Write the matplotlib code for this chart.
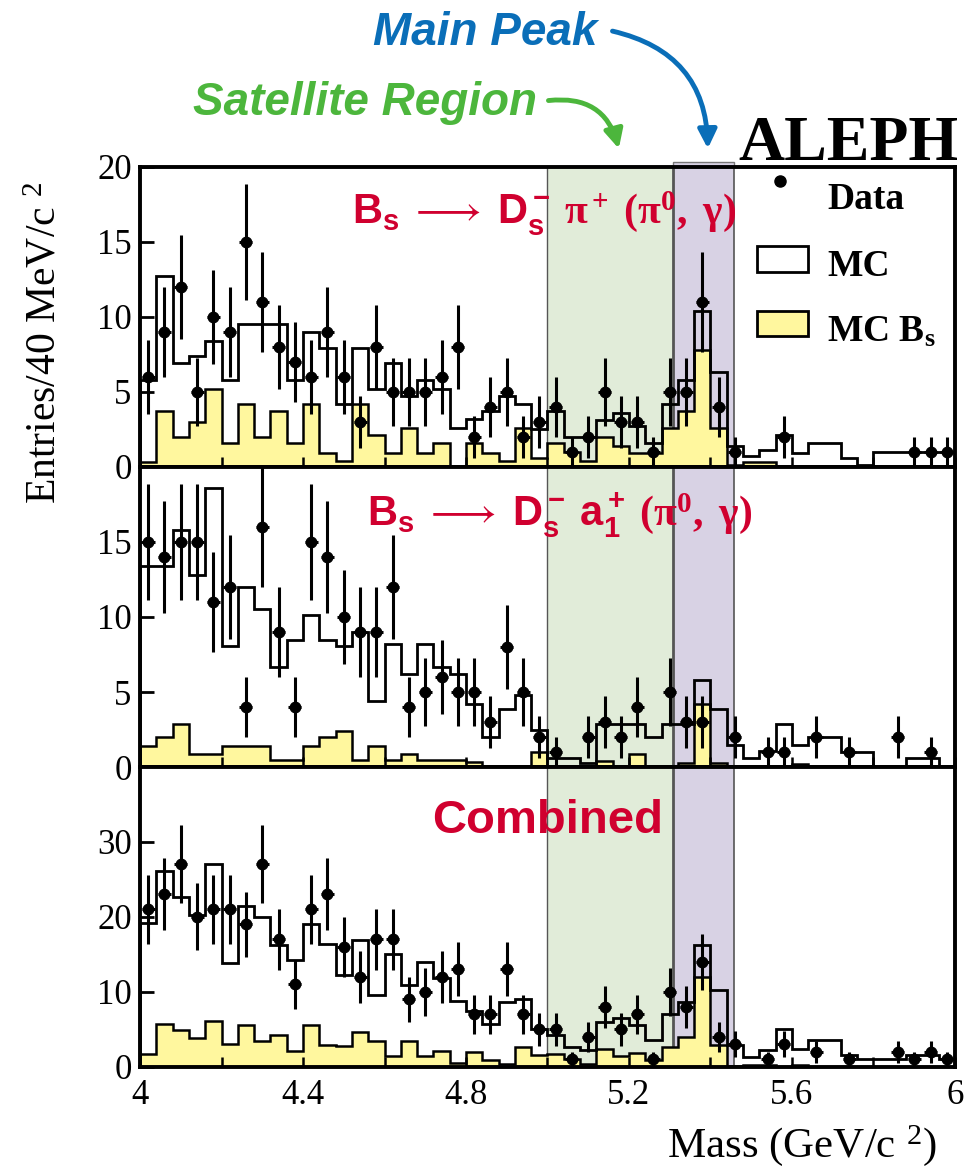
import numpy as np
import matplotlib
matplotlib.use("Agg")
from matplotlib import pyplot as plt
from matplotlib.patches import FancyArrowPatch, Rectangle

# 40 MeV bins between 4 and 6 GeV
edges = np.linspace(4.0, 6.0, 51)
centers = edges[:-1] + 0.02

# data counts per bin, Bs -> Ds pi
data1 = [6, 9, 12, 5, 10, 9, 15, 11, 8, 7, 6, 9, 6, 3, 8, 5, 5, 5, 6, 8,
         2, 4, 5, 2, 3, 4, 1, 2, 5, 3, 3, 1, 5, 5, 11, 4, 1, 0, 0, 2,
         0, 0, 0, 0, 0, 0, 0, 1, 1, 1]
# data counts per bin, Bs -> Ds a1
data2 = [15, 14, 15, 15, 11, 12, 4, 16, 9, 4, 15, 14, 10, 9, 9, 12, 4, 5, 6, 5,
         5, 3, 8, 5, 2, 1, 0, 2, 3, 2, 4, 0, 5, 3, 3, 0, 2, 0, 1, 1,
         0, 2, 0, 1, 0, 0, 2, 0, 1, 0]

# MC total
mc1 = [5.8, 12.7, 6.9, 7.4, 8.4, 5.8, 9.5, 9.5, 9.5, 5.8, 9.0, 7.9, 4.2, 7.9, 5.2, 6.9, 4.7, 5.8, 5.2, 2.6,
       3.2, 3.7, 4.7, 4.2, 2.5, 3.7, 2.0, 2.0, 3.1, 3.6, 2.7, 1.6, 4.2, 5.8, 10.4, 6.3, 1.4, 0.7, 1.1, 2.1,
       0.9, 1.6, 1.6, 0.6, 0.1, 1.0, 1.0, 1.0, 1.0, 1.0]
mc2 = [13.4, 13.4, 15.8, 12.8, 18.6, 8.1, 12.0, 10.5, 6.7, 8.5, 10.1, 8.5, 8.1, 9.0, 4.4, 8.2, 6.2, 8.2, 6.7, 6.2,
       4.2, 2.0, 3.9, 4.8, 2.5, 0.6, 0.6, 0.3, 2.9, 2.9, 2.9, 2.0, 2.9, 2.9, 5.8, 3.9, 1.5, 0.6, 1.1, 2.9,
       1.5, 2.0, 2.0, 1.0, 1.0, 0.0, 0.0, 0.6, 0.6, 0.0]

# MC Bs component
bs1 = [0.3, 3.7, 2.0, 3.0, 5.2, 1.6, 4.2, 2.0, 3.7, 1.6, 4.2, 0.9, 0.4, 4.2, 2.1, 0.9, 2.6, 0.9, 1.6, 0.0,
       1.6, 0.9, 0.4, 2.6, 0.6, 1.6, 1.0, 0.4, 2.0, 1.4, 0.9, 0.9, 2.6, 3.7, 7.8, 2.6, 0.1, 0.3, 0.3, 0.0,
       0.0, 0.0, 0.0, 0.0, 0.0, 0.0, 0.0, 0.0, 0.0, 0.0]
bs2 = [1.4, 2.0, 2.9, 0.9, 0.9, 1.4, 1.4, 1.4, 0.5, 0.5, 1.4, 2.0, 2.4, 0.5, 1.4, 0.5, 0.9, 0.5, 0.5, 0.5,
       0.35, 0.0, 0.0, 0.0, 1.0, 0.1, 0.0, 0.0, 0.4, 0.0, 0.9, 0.0, 0.0, 0.3, 4.2, 0.3, 0.0, 0.0, 0.0, 0.0,
       0.2, 0.0, 0.0, 0.0, 0.0, 0.0, 0.0, 0.0, 0.0, 0.0]

# combined = sum of both channels
data3 = np.array(data1) + np.array(data2)
mc3 = np.array(mc1) + np.array(mc2)
bs3 = np.array(bs1) + np.array(bs2)

# mass windows
sat_lo, sat_hi, peak_hi = 5.0, 5.308, 5.458

red = '#D0002F'
yellow = '#FFF79E'
green_band = '#E1ECD9'
purple_band = '#D8D2E4'

plt.rcParams['font.family'] = ['Liberation Serif', 'DejaVu Serif']
plt.rcParams['mathtext.fontset'] = 'custom'
plt.rcParams['mathtext.rm'] = 'Liberation Serif'
plt.rcParams['mathtext.it'] = 'Liberation Serif:italic'
plt.rcParams['mathtext.bf'] = 'Liberation Sans:bold'
plt.rcParams['mathtext.sf'] = 'Liberation Serif:bold'
plt.rcParams['mathtext.fallback'] = 'stix'

fig = plt.figure(figsize=(9.71, 11.73), dpi=100)
left, width, height = 0.1442, 0.8393, 0.2558
bottoms = [0.6019, 0.3461, 0.0904]
axes = [fig.add_axes([left, b, width, height]) for b in bottoms]

panels = [(data1, mc1, bs1, 20, [0, 5, 10, 15, 20]),
          (data2, mc2, bs2, 20, [0, 5, 10, 15]),
          (data3, mc3, bs3, 40, [0, 10, 20, 30])]

for ax, (d, mc, bs, ymax, yt) in zip(axes, panels):
    ax.axvspan(sat_lo, sat_hi, color=green_band, zorder=0, lw=0)
    ax.axvspan(sat_hi, peak_hi, color=purple_band, zorder=0, lw=0)
    ax.axvline(sat_lo, color='#555555', lw=1.0, zorder=0.5)
    ax.axvline(sat_hi, color='#555555', lw=2.0, zorder=0.5)
    ax.axvline(peak_hi, color='#555555', lw=1.2, zorder=0.5)

    ax.stairs(bs, edges, fill=True, facecolor=yellow, edgecolor='black', lw=1.8, zorder=1)
    ax.stairs(mc, edges, color='black', lw=2.0, zorder=2)

    d = np.array(d)
    m = d > 0
    ax.errorbar(centers[m], d[m], yerr=np.sqrt(d[m]), xerr=0.016, fmt='o', color='black',
                markersize=7.5, elinewidth=2.2, capsize=0, zorder=3)

    ax.set_xlim(4, 6)
    ax.set_ylim(0, ymax)
    ax.set_yticks(yt)
    ax.set_xticks(np.arange(4.0, 6.01, 0.4))
    ax.set_xticks(np.arange(4.2, 6.0, 0.4), minor=True)
    ax.tick_params(axis='both', which='both', direction='in', labelsize=25)
    ax.tick_params(axis='y', length=10, width=2, pad=6)
    ax.tick_params(axis='x', which='both', length=7, width=1.8, pad=9)
    for s in ax.spines.values():
        s.set_linewidth(2.8)
    if ax is not axes[-1]:
        ax.tick_params(axis='x', labelbottom=False)

axes[2].set_xticklabels(['4', '4.4', '4.8', '5.2', '5.6', '6'])

# main peak band pokes a little above the top frame
axes[0].add_patch(Rectangle((sat_hi, 20), peak_hi - sat_hi, 0.3, facecolor=purple_band,
                            edgecolor='#777777', lw=1.0, clip_on=False, zorder=0))

# channel labels
axes[0].text(0.26, 0.809, r'$\mathbf{B_s}\ \longrightarrow\ \mathbf{D_s^-}\ \mathsf{\pi^+\ (\pi^0,\ \gamma)}$',
             transform=axes[0].transAxes, color=red, fontsize=30, va='baseline')
axes[1].text(0.2785, 0.803, r'$\mathbf{B_s}\ \longrightarrow\ \mathbf{D_s^-\ a_1^+}\ \mathsf{(\pi^0,\ \gamma)}$',
             transform=axes[1].transAxes, color=red, fontsize=30, va='baseline')
axes[2].text(0.358, 0.78, 'Combined', transform=axes[2].transAxes, color=red,
             fontsize=34, fontweight='bold', family='Liberation Sans', va='baseline')

# legend drawn by hand
ax = axes[0]
ax.plot([0.785], [0.952], 'o', color='black', markersize=8, transform=ax.transAxes, clip_on=False)
ax.add_patch(Rectangle((0.757, 0.651), 0.063, 0.084, transform=ax.transAxes,
                       facecolor='white', edgecolor='black', lw=2))
ax.add_patch(Rectangle((0.757, 0.435), 0.063, 0.084, transform=ax.transAxes,
                       facecolor=yellow, edgecolor='black', lw=2))
ax.text(0.843, 0.860, 'Data', transform=ax.transAxes, fontsize=27, fontweight='bold', va='baseline')
ax.text(0.843, 0.636, 'MC', transform=ax.transAxes, fontsize=27, fontweight='bold', va='baseline')
ax.text(0.843, 0.418, r'MC B$_\mathregular{s}$', transform=ax.transAxes, fontsize=27,
        fontweight='bold', va='baseline')

# axis labels
fig.text(0.047, 0.708, r'Entries/40 MeV/c $^{2}$', rotation=90, fontsize=30, ha='center', va='center')
fig.text(0.965, 0.0135, r'Mass (GeV/c $^{2}$)', fontsize=31, ha='right', va='baseline')

fig.text(0.987, 0.8636, 'ALEPH', fontsize=46, fontweight='bold', ha='right', va='baseline')

# region annotations
blue = '#0A6EB8'
green = '#4CB63C'
fig.text(0.615, 0.972, 'Main Peak', color=blue, fontsize=33, fontweight='bold',
         style='italic', family='Liberation Sans', ha='right', va='center')
fig.text(0.553, 0.912, 'Satellite Region', color=green, fontsize=33, fontweight='bold',
         style='italic', family='Liberation Sans', ha='right', va='center')
fig.add_artist(FancyArrowPatch((0.628, 0.974), (0.729, 0.871), transform=fig.transFigure,
                               connectionstyle='arc3,rad=-0.4', arrowstyle='-|>',
                               mutation_scale=28, lw=3.5, color=blue))
fig.add_artist(FancyArrowPatch((0.562, 0.914), (0.638, 0.871), transform=fig.transFigure,
                               connectionstyle='arc3,rad=-0.45', arrowstyle='-|>',
                               mutation_scale=28, lw=3.5, color=green))

fig.savefig('out.png', dpi=100)
